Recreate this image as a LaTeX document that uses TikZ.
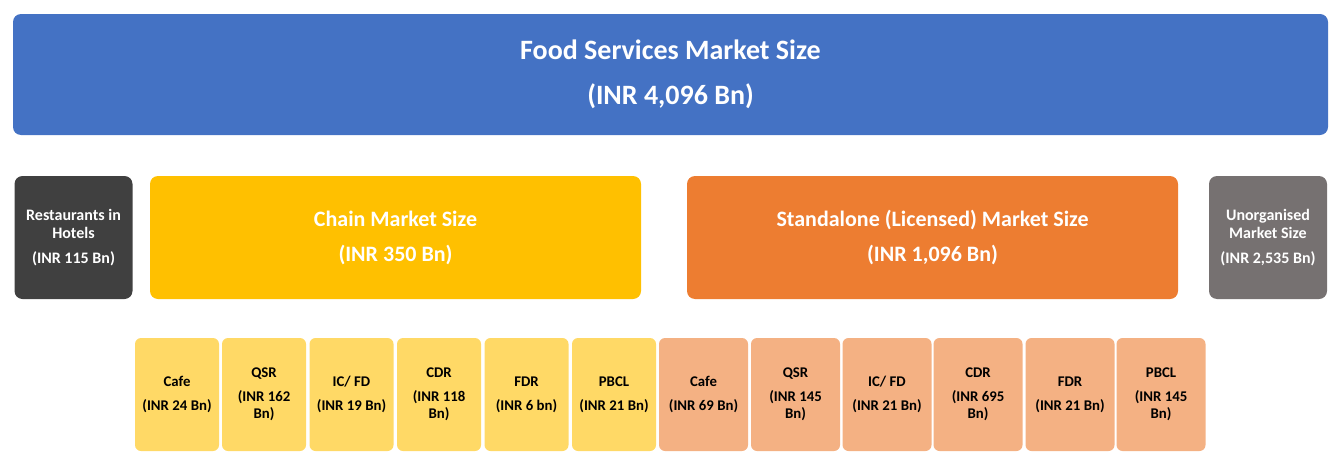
\documentclass[tikz,border=0pt]{standalone}
\usepackage{fontspec}
\setmainfont{Carlito}
\definecolor{cblue}{HTML}{4472C4}
\definecolor{cyellow}{HTML}{FFC000}
\definecolor{corange}{HTML}{ED7D31}
\definecolor{cdark}{HTML}{404040}
\definecolor{cgray}{HTML}{767171}
\definecolor{lyellow}{HTML}{FFD966}
\definecolor{lorange}{HTML}{F4B183}
\begin{document}
\begin{tikzpicture}[x=1pt,y=-1pt,
  box/.style={rounded corners=8pt, inner sep=0pt, align=center, font=\bfseries},
  topbox/.style={box, fill=cblue, text=white, minimum width=1315pt, minimum height=121pt, font=\bfseries\fontsize{28}{33}\selectfont},
  midbox/.style={box, text=white, minimum width=491pt, minimum height=123pt, font=\bfseries\fontsize{22}{23}\selectfont},
  sidebox/.style={box, text=white, minimum width=118pt, minimum height=123pt, font=\bfseries\fontsize{16}{18}\selectfont},
  ybox/.style={box, rounded corners=6pt, fill=lyellow, text=black, minimum width=84pt, minimum height=113pt, font=\bfseries\fontsize{14.8}{17}\selectfont},
  obox/.style={ybox, fill=lorange, minimum width=89pt}]
\useasboundingbox (0,0) rectangle (1342,455);
\node[topbox] (top) at (670.5,74.5) {Food Services Market Size\\[12pt](INR 4,096 Bn)};
\node[sidebox, fill=cdark] (hotels) at (73.5,237.5) {Restaurants in\\Hotels\\[7pt](INR 115 Bn)};
\node[midbox, fill=cyellow] (chain) at (395.5,237.5) {Chain Market Size\\[12pt](INR 350 Bn)};
\node[midbox, fill=corange] (standalone) at (932.5,237.5) {Standalone (Licensed) Market Size\\[12pt](INR 1,096 Bn)};
\node[sidebox, fill=cgray] (unorg) at (1268,237.5) {Unorganised\\Market Size\\[7pt](INR 2,535 Bn)};
\node[ybox] (c1) at (177,394.5) {Cafe\\[7pt](INR 24 Bn)};
\node[ybox] (c2) at (264,394.5) {QSR\\[7pt](INR 162\\Bn)};
\node[ybox] (c3) at (351.5,394.5) {IC/ FD\\[7pt](INR 19 Bn)};
\node[ybox] (c4) at (439,394.5) {CDR\\[7pt](INR 118\\Bn)};
\node[ybox] (c5) at (526.5,394.5) {FDR\\[7pt](INR 6 bn)};
\node[ybox] (c6) at (614,394.5) {PBCL\\[7pt](INR 21 Bn)};
\node[obox] (s1) at (703.5,394.5) {Cafe\\[7pt](INR 69 Bn)};
\node[obox] (s2) at (795.5,394.5) {QSR\\[7pt](INR 145\\Bn)};
\node[obox] (s3) at (887,394.5) {IC/ FD\\[7pt](INR 21 Bn)};
\node[obox] (s4) at (978,394.5) {CDR\\[7pt](INR 695\\Bn)};
\node[obox] (s5) at (1070,394.5) {FDR\\[7pt](INR 21 Bn)};
\node[obox] (s6) at (1161,394.5) {PBCL\\[7pt](INR 145\\Bn)};
\end{tikzpicture}
\end{document}
